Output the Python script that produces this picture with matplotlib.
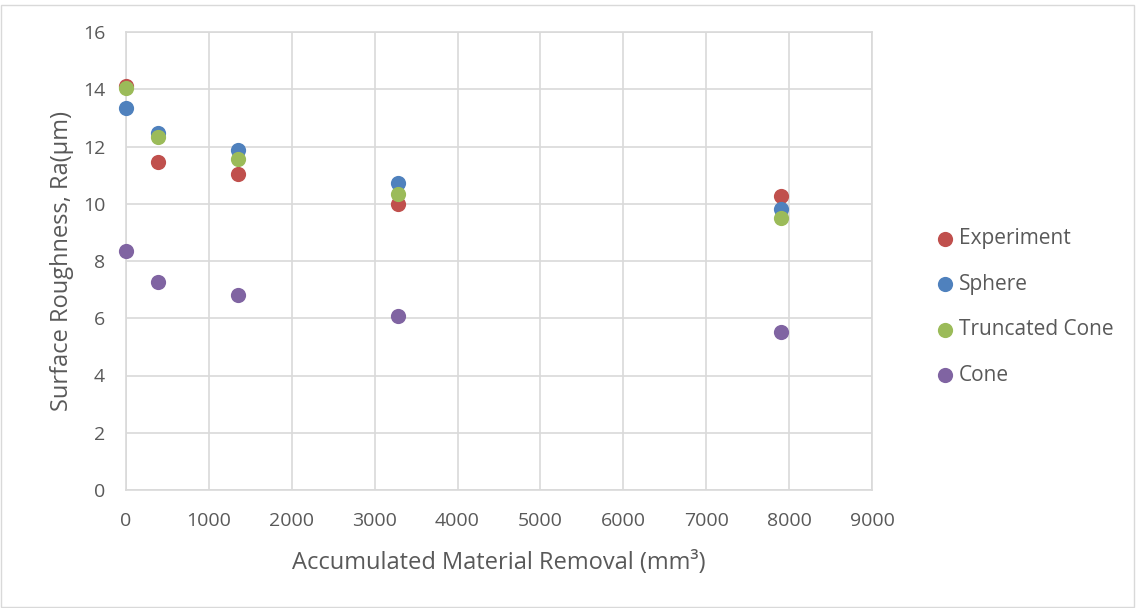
import matplotlib
matplotlib.use("Agg")
import matplotlib.pyplot as plt
from matplotlib.patches import Rectangle

plt.rcParams['font.family'] = ['Open Sans', 'DejaVu Sans']

# Accumulated material removal (mm^3) at each measurement
removal = [0, 390, 1347, 3277, 7897]

experiment = [14.1, 11.45, 11.04, 9.98, 10.28]
sphere = [13.36, 12.46, 11.88, 10.71, 9.83]
truncated_cone = [14.05, 12.34, 11.56, 10.34, 9.49]
cone = [8.35, 7.28, 6.81, 6.09, 5.53]

series_names = ["Experiment", "Sphere", "Truncated Cone", "Cone"]
series_values = [experiment, sphere, truncated_cone, cone]
series_colors = ["#C0504D", "#4F81BD", "#9BBB59", "#8064A2"]

x_ticks = [0, 1000, 2000, 3000, 4000, 5000, 6000, 7000, 8000, 9000]
y_ticks = [0, 2, 4, 6, 8, 10, 12, 14, 16]

text_color = "#595959"
grid_color = "#D9D9D9"

fig = plt.figure(figsize=(11.36, 6.08), dpi=100)
W, H = 1136, 608
ax = fig.add_axes([126 / W, 1 - 490 / H, (872 - 126) / W, (490 - 32) / H])

for name, vals, col in zip(series_names, series_values, series_colors):
    ax.scatter(removal, vals, s=120, color=col, label=name, zorder=3,
               linewidths=0, clip_on=False)

ax.set_xlim(0, 9000)
ax.set_ylim(0, 16)
ax.set_xticks(x_ticks)
ax.set_yticks(y_ticks)
ax.grid(True, color=grid_color, linewidth=1.2, zorder=0)
ax.set_axisbelow(True)
for sp in ax.spines.values():
    sp.set_color(grid_color)
    sp.set_linewidth(1.2)
ax.tick_params(length=0, labelsize=14, colors=text_color)
ax.tick_params(axis="x", pad=16)
ax.tick_params(axis="y", pad=15)

ax.set_xlabel("Accumulated Material Removal (mm³)", fontsize=17,
              color=text_color, labelpad=15)
ax.set_ylabel("Surface Roughness, Ra(µm)", fontsize=17,
              color=text_color, labelpad=6)

leg = fig.legend(loc="center left", bbox_to_anchor=(913 / W, 1 - 307 / H),
                 frameon=False, fontsize=15, labelcolor=text_color,
                 handletextpad=0.0, labelspacing=1.18, markerscale=1.0,
                 handlelength=1.3)

fig.patches.append(Rectangle((1 / W, 1 / H), 1 - 3 / W, 1 - 6 / H,
                             transform=fig.transFigure, fill=False,
                             edgecolor=grid_color, linewidth=1.0))

fig.savefig("out.png", dpi=100, facecolor="white")
